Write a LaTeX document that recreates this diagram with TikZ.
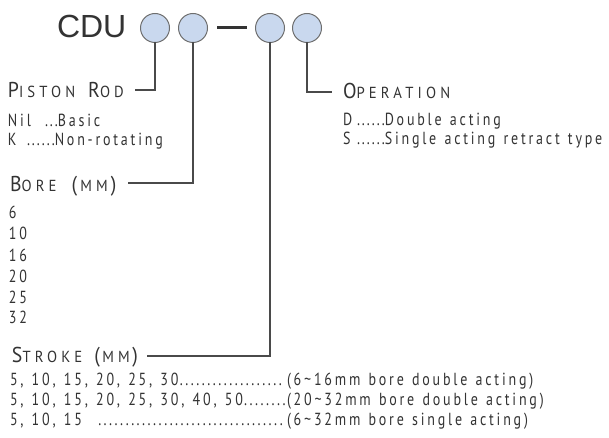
\documentclass[tikz,border=0pt]{standalone}
\usepackage{fontspec}
\usetikzlibrary{calc}
\setmainfont{PT Sans}[FakeStretch=0.8,LetterSpace=16,WordSpace=1.25]
\newfontfamily\headfont{PT Sans}[FakeStretch=0.92,LetterSpace=26]
\newfontfamily\dotfont{PT Sans}[FakeStretch=0.8,LetterSpace=6]
\newfontfamily\cdufont{Liberation Sans}
\definecolor{txt}{HTML}{333333}
\definecolor{leadc}{HTML}{4A4A4A}
\definecolor{circfill}{HTML}{C9D8EE}
\definecolor{circdraw}{HTML}{6E6E6E}
\newcommand\HeadSC[2]{{\fontsize{21.5}{21.5}\selectfont #1}{\fontsize{16}{16}\selectfont #2}}
\newcommand\HBig[1]{{\fontsize{21.5}{21.5}\selectfont #1}}
\newcommand\HMM[1]{\HBig{(}\hspace{#1}{\fontsize{16}{16}\selectfont MM}\hspace{#1}\HBig{)}}
\newcommand\Dt[1]{{\dotfont #1}}
\newcommand\DotRun[1]{{\dotfont\hbox to \dimexpr #1\relax{\leaders\hbox to 5.5pt{\hss.\hss}\hfill}}}
\tikzset{
  every node/.style={inner sep=0pt, outer sep=0pt, text=txt},
  body/.style={anchor=base west, font=\fontsize{17.5}{17.5}\selectfont},
  head/.style={anchor=base west, font=\headfont},
  circ/.style={circle, draw=circdraw, line width=1pt, fill=circfill, minimum size=29pt},
  lead/.style={draw=leadc, line width=1.2pt},
}
\begin{document}
\begin{tikzpicture}[x=1pt,y=-1pt]
\useasboundingbox (0,0) rectangle (609,438);
% title
\node[anchor=base west, font=\cdufont\fontsize{32}{32}\selectfont] (cdu) at (57,38) {CDU};
\node[circ] (c1) at (155,28) {};
\node[circ] (c2) at (193,28) {};
\node[rectangle, fill=txt, minimum width=30pt, minimum height=3pt] (dash) at (232,28) {};
\node[circ] (c3) at (270,28) {};
\node[circ] (c4) at (307,28) {};
% leader ends
\coordinate (e1) at (135,90);
\coordinate (e2) at (128,183);
\coordinate (e3) at (147,356);
\coordinate (e4) at (332,92);
\draw[lead] (c1.south) |- (e1);
\draw[lead] (c2.south) |- (e2);
\draw[lead] (c3.south) |- (e3);
\draw[lead] (c4.south) |- (e4);
% piston rod
\node[head] (pr) at (8,98) {\HeadSC{P}{ISTON}\hspace{13pt}\HeadSC{R}{OD}};
\node[body] (nil) at (8,127) {Nil};
\node[body] (nilb) at (45,127) {\Dt{...}Basic};
\node[body] (k) at (8,146) {K};
\node[body] (kb) at (27,146) {\Dt{......}Non-rotating};
% bore
\node[head] (bore) at (10,192) {\HeadSC{B}{ORE}\hspace{15pt}\HMM{3.2pt}};
\node[body] (b6) at (9,218) {6};
\node[body] (b10) at (9,239) {10};
\node[body] (b16) at (9,261) {16};
\node[body] (b20) at (9,282) {20};
\node[body] (b25) at (9,303) {25};
\node[body] (b32) at (9,323) {32};
% stroke
\node[head] (stroke) at (12,362) {\HeadSC{S}{TROKE}\hspace{12pt}\HMM{2.5pt}};
\node[body] (s1a) at (10,385) {5, 10, 15, 20, 25, 30};
\node[body] (s1c) at (287,385) {(6\char"7E 16mm bore double acting)};
\path let \p1=(s1a.base east), \p2=(s1c.base west) in
  node[body] (s1d) at (\p1) {\DotRun{\x2-\x1}};
\node[body] (s2a) at (10,405) {5, 10, 15, 20, 25, 30, 40, 50};
\node[body] (s2c) at (287,405) {(20\char"7E 32mm bore double acting)};
\path let \p1=(s2a.base east), \p2=(s2c.base west) in
  node[body] (s2d) at (\p1) {\DotRun{\x2-\x1}};
\node[body] (s3a) at (10,425) {5, 10, 15};
\node[body] (s3c) at (287,425) {(6\char"7E 32mm bore single acting)};
\coordinate (s3s) at (97,425);
\path let \p1=(s3s), \p2=(s3c.base west) in
  node[body] (s3d) at (\p1) {\DotRun{\x2-\x1}};
% operation
\node[head] (op) at (343,99) {\HeadSC{O}{PERATION}};
\node[body] (d) at (343,126) {D};
\node[body] (db) at (357,126) {\Dt{......}Double acting};
\node[body] (s) at (343,145) {S};
\node[body] (sb) at (357,145) {\Dt{......}Single acting retract type};
\end{tikzpicture}
\end{document}
